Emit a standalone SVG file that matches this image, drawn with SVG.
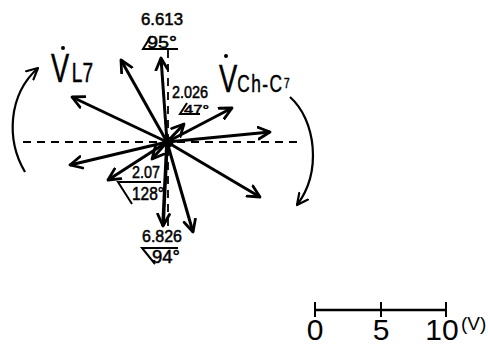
<svg xmlns="http://www.w3.org/2000/svg" width="488" height="347" viewBox="0 0 488 347">
<style>
.vec{stroke:#000;stroke-width:3;fill:none;marker-end:url(#ah)}
.dash{stroke:#000;stroke-width:1.8;stroke-dasharray:8 6;fill:none}
.arc{stroke:#000;stroke-width:2.2;fill:none;marker-end:url(#ah2)}
.ln{stroke:#000;stroke-width:2;fill:none}
text{font-family:"Liberation Sans",Arial,sans-serif;fill:#000}
.lab{stroke:#000;stroke-width:0.5}
</style>
<defs>
<marker id="ah" viewBox="0 0 14 14" refX="12" refY="7" markerWidth="15" markerHeight="15" markerUnits="userSpaceOnUse" orient="auto">
<path d="M1,1.5 L12,7 L1,12.5" stroke="#000" stroke-width="2.6" fill="none" stroke-linecap="round" stroke-linejoin="round"/>
</marker>
<marker id="ah2" viewBox="0 0 14 14" refX="12" refY="7" markerWidth="14" markerHeight="14" markerUnits="userSpaceOnUse" orient="auto">
<path d="M1,1.5 L12,7 L1,12.5" stroke="#000" stroke-width="2.2" fill="none" stroke-linecap="round" stroke-linejoin="round"/>
</marker>
</defs>
<rect width="488" height="347" fill="#fff"/>
<g id="axes">
<line class="dash" x1="23" y1="142" x2="298" y2="142"/>
<line class="dash" x1="168" y1="50" x2="168" y2="228"/>
</g>
<g id="connectors">
<line class="vec" x1="167" y1="142" x2="161" y2="58"/>
<line class="vec" x1="167" y1="142" x2="121" y2="60"/>
<line class="vec" x1="167" y1="142" x2="72" y2="97"/>
<line class="vec" x1="167" y1="142" x2="70" y2="165"/>
<line class="vec" x1="167" y1="142" x2="108" y2="180"/>
<line class="vec" x1="167" y1="142" x2="152" y2="159"/>
<line class="vec" x1="167" y1="142" x2="184" y2="124"/>
<line class="vec" x1="167" y1="142" x2="232" y2="108"/>
<line class="vec" x1="167" y1="142" x2="270" y2="132"/>
<line class="vec" x1="167" y1="142" x2="260" y2="197"/>
<line class="vec" x1="167" y1="142" x2="193" y2="232"/>
<line class="vec" x1="167" y1="142" x2="163" y2="226" style="stroke-width:3.6"/>
<circle cx="168" cy="142" r="5.5" fill="#000"/>
<path class="arc" d="M25,172 C6,140 8,95 38,68"/>
<path class="arc" d="M290,97 C316,120 322,172 297,205"/>
</g>
<g id="label-VL7">
<circle cx="63" cy="48" r="2" fill="#000"/>
<text class="lab" transform="translate(51,82) scale(0.68,1)" font-size="40">V<tspan font-size="28" dx="4">L7</tspan></text>
</g>
<g id="label-VChC7">
<circle cx="226" cy="56" r="2" fill="#000"/>
<text class="lab" transform="translate(219,92) scale(0.72,1)" font-size="38">V<tspan font-size="24" letter-spacing="2">Ch-C</tspan><tspan font-size="14" dy="-4" dx="1">7</tspan></text>
</g>
<g id="label-6613">
<text class="lab" x="141" y="25" font-size="17" textLength="42" lengthAdjust="spacingAndGlyphs">6.613</text>
<path class="ln" d="M151,36 L143,49 L178,49"/>
<text class="lab" x="147" y="48" font-size="17" textLength="30" lengthAdjust="spacingAndGlyphs">95°</text>
</g>
<g id="label-2026">
<text class="lab" x="172" y="98" font-size="16" textLength="36" lengthAdjust="spacingAndGlyphs">2.026</text>
<path class="ln" d="M187,103 L180,114 L200,114"/>
<text class="lab" x="184" y="113.5" font-size="13" textLength="25" lengthAdjust="spacingAndGlyphs">47°</text>
</g>
<g id="label-207">
<text class="lab" x="132" y="178" font-size="17" textLength="28" lengthAdjust="spacingAndGlyphs">2.07</text>
<path class="ln" d="M161,182 L118,182 L132,204"/>
<text class="lab" x="132" y="200" font-size="18" textLength="32" lengthAdjust="spacingAndGlyphs">128°</text>
</g>
<g id="label-6826">
<text class="lab" x="142" y="242" font-size="17" textLength="40" lengthAdjust="spacingAndGlyphs">6.826</text>
<path class="ln" d="M178,248 L142,248 L155,264"/>
<text class="lab" x="152" y="263" font-size="18" textLength="28" lengthAdjust="spacingAndGlyphs">94°</text>
</g>
<g id="scale">
<line class="ln" x1="315" y1="310" x2="447" y2="310" style="stroke-width:2.5"/>
<line class="ln" x1="315" y1="302" x2="315" y2="317"/>
<line class="ln" x1="381" y1="302" x2="381" y2="317"/>
<line class="ln" x1="446" y1="302" x2="446" y2="317"/>
<text x="315" y="340" font-size="30" text-anchor="middle">0</text>
<text x="381" y="340" font-size="30" text-anchor="middle">5</text>
<text x="442" y="340" font-size="30" text-anchor="middle">10</text>
<text x="461" y="330" font-size="19">(V)</text>
</g>
</svg>
